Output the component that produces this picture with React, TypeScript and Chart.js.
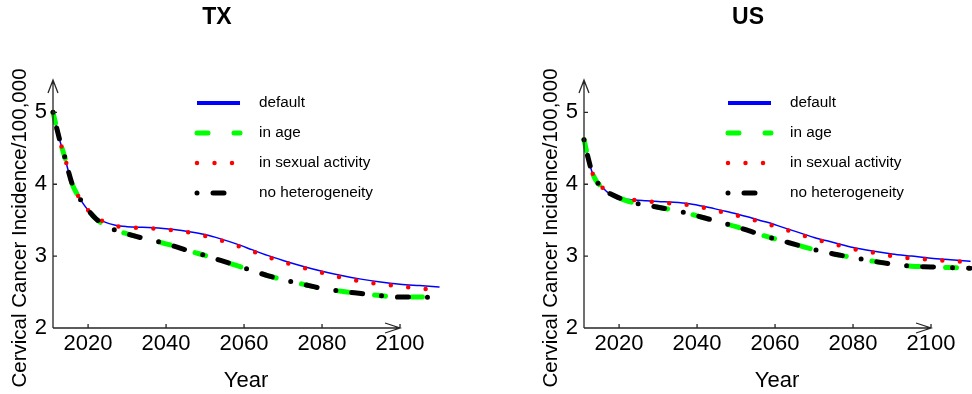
import React, { useEffect, useRef } from "react";
import { Chart, registerables } from "chart.js";

Chart.register(...registerables);

// ---- data ----
const YEARS = [2011, 2012, 2013, 2014, 2015, 2016, 2017, 2018, 2020, 2022, 2024, 2027, 2030, 2034, 2038, 2042, 2046, 2050, 2054, 2058, 2062, 2066, 2070, 2075, 2080, 2085, 2090, 2095, 2100, 2105, 2110];

const TX_DEFAULT = [5.0, 4.77, 4.56, 4.38, 4.17, 3.99, 3.88, 3.79, 3.64, 3.54, 3.48, 3.43, 3.41, 3.40, 3.39, 3.37, 3.34, 3.30, 3.24, 3.17, 3.09, 3.01, 2.94, 2.86, 2.79, 2.73, 2.68, 2.64, 2.61, 2.59, 2.57];
const TX_AGE = [5.0, 4.77, 4.56, 4.38, 4.17, 3.99, 3.88, 3.79, 3.64, 3.52, 3.44, 3.36, 3.31, 3.25, 3.20, 3.14, 3.07, 3.01, 2.94, 2.87, 2.80, 2.73, 2.67, 2.61, 2.55, 2.51, 2.48, 2.45, 2.43, 2.43, 2.42];
const TX_SEXUAL = [5.0, 4.77, 4.56, 4.38, 4.17, 3.99, 3.88, 3.79, 3.64, 3.54, 3.48, 3.42, 3.40, 3.39, 3.38, 3.36, 3.33, 3.28, 3.22, 3.15, 3.07, 2.99, 2.92, 2.84, 2.77, 2.70, 2.65, 2.61, 2.58, 2.55, 2.53];
const TX_NOHET = [5.0, 4.77, 4.56, 4.38, 4.17, 3.99, 3.88, 3.79, 3.64, 3.52, 3.44, 3.36, 3.31, 3.25, 3.20, 3.14, 3.07, 3.01, 2.94, 2.87, 2.80, 2.73, 2.67, 2.61, 2.55, 2.51, 2.48, 2.45, 2.43, 2.43, 2.42];

const US_DEFAULT = [4.62, 4.38, 4.18, 4.06, 3.99, 3.94, 3.89, 3.86, 3.81, 3.79, 3.78, 3.77, 3.76, 3.75, 3.73, 3.69, 3.64, 3.59, 3.53, 3.47, 3.40, 3.33, 3.26, 3.19, 3.12, 3.07, 3.03, 3.00, 2.97, 2.95, 2.93];
const US_AGE = [4.62, 4.38, 4.18, 4.06, 3.99, 3.94, 3.89, 3.86, 3.81, 3.77, 3.74, 3.71, 3.68, 3.64, 3.59, 3.53, 3.47, 3.41, 3.34, 3.27, 3.21, 3.15, 3.09, 3.03, 2.98, 2.93, 2.89, 2.86, 2.85, 2.84, 2.83];
const US_SEXUAL = [4.62, 4.38, 4.18, 4.06, 3.99, 3.94, 3.89, 3.86, 3.81, 3.79, 3.78, 3.76, 3.75, 3.73, 3.71, 3.67, 3.62, 3.57, 3.51, 3.45, 3.38, 3.31, 3.24, 3.17, 3.10, 3.05, 3.00, 2.97, 2.95, 2.93, 2.92];
const US_NOHET = [4.62, 4.38, 4.18, 4.06, 3.99, 3.94, 3.89, 3.86, 3.81, 3.77, 3.74, 3.71, 3.68, 3.64, 3.59, 3.53, 3.47, 3.41, 3.34, 3.27, 3.21, 3.15, 3.09, 3.03, 2.98, 2.93, 2.89, 2.86, 2.85, 2.84, 2.83];

const SERIES_NAMES = ["default", "in age", "in sexual activity", "no heterogeneity"];
const X_TICKS = [2020, 2040, 2060, 2080, 2100];
const Y_TICKS = [2, 3, 4, 5];
const X_TITLE = "Year";
const Y_TITLE = "Cervical Cancer Incidence/100,000";

const FONT = "'Liberation Sans', Arial, Helvetica, sans-serif";

type Style = { color: string; width: number; legendWidth: number; dash: number[]; order: number };
const STYLES: Style[] = [
  { color: "#0000ff", width: 1.5, legendWidth: 4, dash: [], order: 4 },
  { color: "#00ff00", width: 5, legendWidth: 5, dash: [11, 26], order: 3 },
  { color: "#ff0000", width: 4.5, legendWidth: 4.5, dash: [0, 17.5], order: 2 },
  { color: "#000000", width: 5, legendWidth: 5, dash: [0, 16, 11, 19], order: 1 },
];

const decorPlugin = {
  id: "decor",
  afterDraw(chart: any, _args: any, opts: any) {
    const ctx = chart.ctx as CanvasRenderingContext2D;
    const a = chart.chartArea;
    const xs = chart.scales.x;
    const ys = chart.scales.y;
    ctx.save();
    // axes
    ctx.strokeStyle = "#262626";
    ctx.lineWidth = 1.3;
    ctx.setLineDash([]);
    ctx.lineCap = "butt";
    const x0 = a.left;
    const y0 = a.bottom;
    const yTop = a.top;
    const xEnd = xs.getPixelForValue(2100);
    ctx.beginPath();
    ctx.moveTo(x0, y0);
    ctx.lineTo(x0, yTop);
    ctx.moveTo(x0, y0);
    ctx.lineTo(xEnd, y0);
    // arrowheads
    ctx.moveTo(x0 - 5, yTop + 13);
    ctx.lineTo(x0, yTop);
    ctx.lineTo(x0 + 5, yTop + 13);
    ctx.moveTo(xEnd - 15, y0 - 5);
    ctx.lineTo(xEnd, y0);
    ctx.lineTo(xEnd - 15, y0 + 5);
    // ticks
    ys.ticks.forEach((t: any) => {
      const y = ys.getPixelForValue(t.value);
      ctx.moveTo(x0, y);
      ctx.lineTo(x0 + 4, y);
    });
    xs.ticks.forEach((t: any) => {
      const x = xs.getPixelForValue(t.value);
      ctx.moveTo(x, y0);
      ctx.lineTo(x, y0 - 4);
    });
    ctx.stroke();

    // title
    ctx.fillStyle = "#000";
    ctx.font = `bold 23px ${FONT}`;
    ctx.textAlign = "center";
    ctx.textBaseline = "middle";
    ctx.fillText(opts.title, a.left + 164, 18);

    // y title
    ctx.save();
    ctx.translate(a.left - 33, a.top + 148);
    ctx.rotate(-Math.PI / 2);
    ctx.font = `20.5px ${FONT}`;
    ctx.fillStyle = "#000";
    ctx.textAlign = "center";
    ctx.textBaseline = "middle";
    ctx.fillText(Y_TITLE, 0, 0);
    ctx.restore();

    // legend
    ctx.font = `15.3px ${FONT}`;
    ctx.textAlign = "left";
    ctx.textBaseline = "middle";
    chart.data.datasets.forEach((ds: any, i: number) => {
      const st = STYLES[i];
      const y = a.top + 23 + i * 30;
      ctx.beginPath();
      ctx.strokeStyle = st.color;
      ctx.lineWidth = st.legendWidth;
      ctx.lineCap = st.dash.length ? "round" : "butt";
      ctx.setLineDash(st.dash);
      ctx.moveTo(a.left + 144, y);
      ctx.lineTo(a.left + 187, y);
      ctx.stroke();
      ctx.setLineDash([]);
      ctx.fillStyle = "#000";
      ctx.fillText(ds.label, a.left + 206, y);
    });
    ctx.restore();
  },
};

type PanelProps = {
  title: string;
  series: number[][];
  padLeft: number;
  padRight: number;
  axisW: number;
};

function Panel({ title, series, padLeft, padRight, axisW }: PanelProps) {
  const ref = useRef<HTMLCanvasElement | null>(null);
  useEffect(() => {
    if (!ref.current) return;
    const datasets = series.map((vals, i) => ({
      label: SERIES_NAMES[i],
      data: YEARS.map((yr, j) => ({ x: yr, y: vals[j] })),
      borderColor: STYLES[i].color,
      backgroundColor: STYLES[i].color,
      borderWidth: STYLES[i].width,
      borderDash: STYLES[i].dash,
      borderCapStyle: "round" as const,
      borderJoinStyle: "round" as const,
      pointRadius: 0,
      pointHoverRadius: 0,
      cubicInterpolationMode: "monotone" as const,
      fill: false,
      clip: false as any,
      order: STYLES[i].order,
    }));
    const chart = new Chart(ref.current, {
      type: "line",
      data: { datasets },
      options: {
        animation: false,
        responsive: false,
        devicePixelRatio: 1,
        layout: { padding: { left: padLeft, right: padRight, top: 80, bottom: 0 } },
        plugins: {
          legend: { display: false },
          tooltip: { enabled: false },
          title: { display: false },
          decor: { title },
        } as any,
        scales: {
          x: {
            type: "linear",
            min: 2011,
            max: 2110,
            grid: { display: false, drawTicks: false },
            border: { display: false },
            afterBuildTicks: (s: any) => {
              s.ticks = X_TICKS.map((v) => ({ value: v }));
            },
            afterFit: (s: any) => {
              s.height = 66;
            },
            ticks: {
              color: "#000",
              font: { family: FONT, size: 22 },
              padding: 3,
              maxRotation: 0,
              autoSkip: false,
              callback: (v: any) => String(v),
            },
            title: {
              display: true,
              text: X_TITLE,
              color: "#000",
              font: { family: FONT, size: 22 },
              padding: { top: 0, bottom: 0 },
            },
          },
          y: {
            type: "linear",
            min: 2,
            max: 5.45,
            grid: { display: false, drawTicks: false },
            border: { display: false },
            afterBuildTicks: (s: any) => {
              s.ticks = Y_TICKS.map((v) => ({ value: v }));
            },
            afterFit: (s: any) => {
              s.width = axisW;
            },
            ticks: {
              color: "#000",
              font: { family: FONT, size: 22 },
              padding: 6,
              callback: (v: any) => String(v),
            },
          },
        },
      },
      plugins: [decorPlugin],
    });
    return () => chart.destroy();
  }, []);
  return <canvas ref={ref} width={486} height={394} style={{ width: 486, height: 394, display: "block" }} />;
}

export default function App() {
  return (
    <div style={{ position: "absolute", left: 0, top: 0, width: 972, height: 394, background: "#fff", display: "flex" }}>
      <Panel title="TX" series={[TX_DEFAULT, TX_AGE, TX_SEXUAL, TX_NOHET]} padLeft={0} padRight={47} axisW={53} />
      <Panel title="US" series={[US_DEFAULT, US_AGE, US_SEXUAL, US_NOHET]} padLeft={48} padRight={2} axisW={50} />
    </div>
  );
}
